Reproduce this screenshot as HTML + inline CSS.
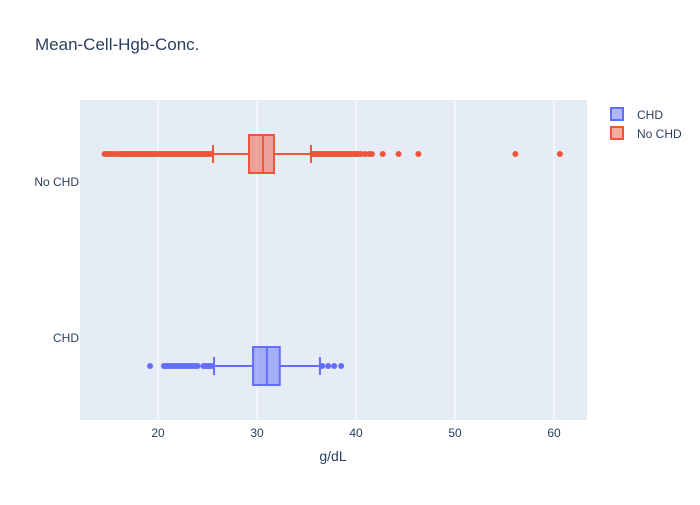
<!DOCTYPE html>
<html><head><meta charset="utf-8"><style>
body{margin:0;background:#fff;font-family:"Liberation Sans",sans-serif}
svg text{font-family:"Liberation Sans",sans-serif;fill:#2a3f5f}
</style></head><body>
<svg id="c" width="700" height="500" xmlns="http://www.w3.org/2000/svg">
<text x="35" y="50" font-size="17">Mean-Cell-Hgb-Conc.</text>
<rect x="80" y="100" width="507" height="320" fill="#e5ecf6"/>
<g id="grid"></g><g id="marks"></g>
<text x="333" y="461" font-size="14" text-anchor="middle">g/dL</text>
<g>
<g><rect x="611" y="108" width="12" height="12" fill="rgba(99,110,250,0.5)" stroke="#636efa" stroke-width="2"/><text x="637" y="119" font-size="12">CHD</text></g>
<g><rect x="611" y="127" width="12" height="12" fill="rgba(239,85,59,0.5)" stroke="#ef553b" stroke-width="2"/><text x="637" y="138" font-size="12">No CHD</text></g>
</g>
</svg>
<script>
const categories=["No CHD","CHD"];
const xTicks=[20,30,40,50,60];
const stats=[[25.56,29.19,30.61,31.72,35.45],[25.66,29.6,31.0,32.3,36.36]];
const outliersNoChd=[14.6,14.8,15.0,15.2,15.5,15.8,16.0,16.2,16.4,16.6,16.8,17.0,17.2,17.4,17.6,17.8,18.0,18.2,18.4,18.6,18.8,19.0,19.2,19.4,19.6,19.8,20.0,20.2,20.4,20.6,20.8,21.0,21.2,21.4,21.6,21.8,22.0,22.2,22.4,22.6,22.8,23.0,23.2,23.4,23.6,23.8,24.0,24.2,24.4,24.6,24.8,25.0,25.2,25.4,35.6,35.8,36.0,36.2,36.4,36.6,36.8,37.0,37.2,37.4,37.6,37.8,38.0,38.2,38.4,38.6,38.8,39.0,39.2,39.4,39.6,39.8,40.0,40.2,40.5,40.9,41.3,41.6,42.7,44.3,46.3,56.1,60.6];
const outliersChd=[19.2,20.6,20.8,21.0,21.2,21.4,21.6,21.8,22.0,22.2,22.4,22.6,22.8,23.0,23.2,23.4,23.6,23.8,24.0,24.6,24.8,25.0,25.2,25.4,36.6,37.2,37.8,38.5];
const outliers=[outliersNoChd,outliersChd];
const colors=["#ef553b","#636efa"],fills=["rgba(239,85,59,0.5)","rgba(99,110,250,0.5)"];
const ns="http://www.w3.org/2000/svg";
const X=v=>158+(v-20)*9.9;
const Ycat=i=>182+i*156;           // category label position
const Ybox=i=>i===0?154:366;        // offset box center
function el(t,a,p){const e=document.createElementNS(ns,t);for(const k in a)e.setAttribute(k,a[k]);p.appendChild(e);return e;}
const grid=document.getElementById('grid'),marks=document.getElementById('marks'),svg=document.getElementById('c');
xTicks.forEach(t=>{
 const l=el('line',{x1:X(t),x2:X(t),y1:100,y2:420,stroke:'#fff','stroke-width':1},grid);
 
 
 const tx=el('text',{x:X(t),y:437,'font-size':12,'text-anchor':'middle'},svg);tx.textContent=t;
 
 
});
categories.forEach((c,i)=>{
 const tx=el('text',{x:79,y:Ycat(i)+4,'font-size':12,'text-anchor':'end'},svg);tx.textContent=c;
 
 
 const s=stats[i],y=Ybox(i),col=colors[i],h=19;
 const g=el('g',{},marks);
 
 
 el('line',{x1:X(s[0]),x2:X(s[1]),y1:y,y2:y,stroke:col,'stroke-width':2},g);
 el('line',{x1:X(s[3]),x2:X(s[4]),y1:y,y2:y,stroke:col,'stroke-width':2},g);
 el('line',{x1:X(s[0]),x2:X(s[0]),y1:y-9,y2:y+9,stroke:col,'stroke-width':2},g);
 el('line',{x1:X(s[4]),x2:X(s[4]),y1:y-9,y2:y+9,stroke:col,'stroke-width':2},g);
 el('rect',{x:X(s[1]),y:y-h,width:X(s[3])-X(s[1]),height:2*h,fill:fills[i],stroke:col,'stroke-width':2},g);
 el('line',{x1:X(s[2]),x2:X(s[2]),y1:y-h,y2:y+h,stroke:col,'stroke-width':2},g);
 outliers[i].forEach(v=>{
  const p=el('circle',{cx:X(v),cy:y,r:3,fill:col},g);
  
  
 });
});
</script>
</body></html>
